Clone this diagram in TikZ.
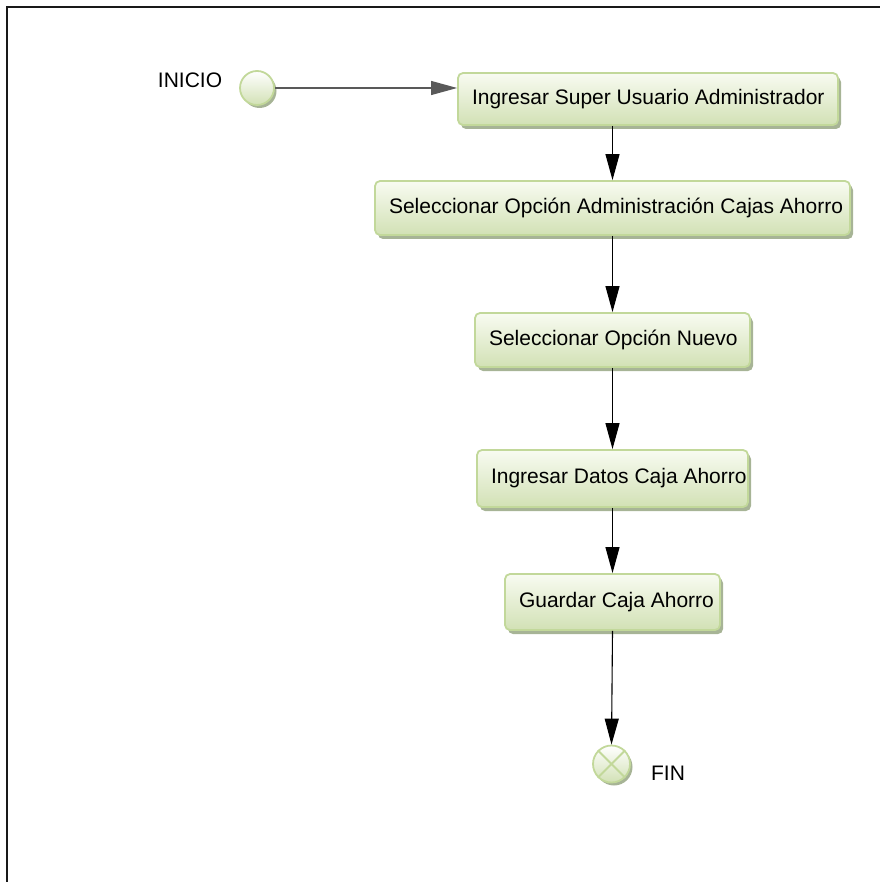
\documentclass[tikz,border=0pt]{standalone}
\usepackage{fontspec}
\setmainfont{Liberation Sans}
\usetikzlibrary{arrows.meta,shadows}
\definecolor{boxtop}{HTML}{F8FBF1}
\definecolor{boxbot}{HTML}{D2E1B5}
\definecolor{boxline}{HTML}{C2D89A}
\definecolor{shadowc}{HTML}{A7B496}
\newcommand{\boxtxt}[2]{\hbox to #1{#2\hss}}
\tikzset{
  actbox/.style={rectangle, rounded corners=5pt, draw=boxline, line width=1.8pt,
    top color=boxtop, bottom color=boxbot, inner xsep=14pt, inner ysep=0pt,
    anchor=center,
    font=\fontsize{21}{25}\selectfont,
    drop shadow={shadow xshift=3pt, shadow yshift=-4pt, fill=shadowc, opacity=1}},
  evcircle/.style={circle, draw=boxline, line width=1.8pt, top color=white,
    bottom color=boxbot, inner sep=0pt,
    drop shadow={shadow xshift=2.5pt, shadow yshift=-3pt, fill=shadowc, opacity=1}},
  lbl/.style={font=\fontsize{21}{25}\selectfont, inner sep=0pt},
  arr/.style={-{Triangle[length=26pt,width=14pt]}, line width=1.1pt, black},
  frameline/.style={line width=2.8pt, black!90}
}
\begin{document}
\begin{tikzpicture}[x=1pt,y=-1pt]
\useasboundingbox (0,0) rectangle (879,882);
\draw[frameline] (7,890) -- (7,7) -- (890,7);

\node[evcircle, minimum size=34pt] (start) at (257,88) {};
\node[lbl] (inicio) at (190,80) {INICIO};

\node[actbox, minimum height=52pt] (b1) at (648,99) {\boxtxt{352pt}{Ingresar Super Usuario Administrador}};
\node[actbox, minimum height=54pt] (b2) at (612.5,208) {\boxtxt{447pt}{Seleccionar Opción Administración Cajas Ahorro}};
\node[actbox, minimum height=54pt] (b3) at (612.5,340) {\boxtxt{247pt}{Seleccionar Opción Nuevo}};
\node[actbox, minimum height=57pt] (b4) at (612.5,478.5) {\boxtxt{243pt}{Ingresar Datos Caja Ahorro}};
\node[actbox, minimum height=56pt] (b5) at (612.5,602) {\boxtxt{187pt}{Guardar Caja Ahorro}};

\node[evcircle, minimum size=37pt] (fin) at (611.5,764) {};
\draw[boxline, line width=1.8pt] (fin.north west) -- (fin.south east);
\draw[boxline, line width=1.8pt] (fin.north east) -- (fin.south west);
\node[lbl] (finlbl) at (668,773) {FIN};

\draw[arr, black!65] (start.east) -- (start.east -| b1.west);
\draw[arr] (b1.south -| b2.north) -- (b2.north);
\draw[arr] (b2.south) -- (b3.north);
\draw[arr] (b3.south) -- (b4.north);
\draw[arr] (b4.south) -- (b5.north);
\draw[arr] (b5.south) -- (fin.north);
\end{tikzpicture}
\end{document}
